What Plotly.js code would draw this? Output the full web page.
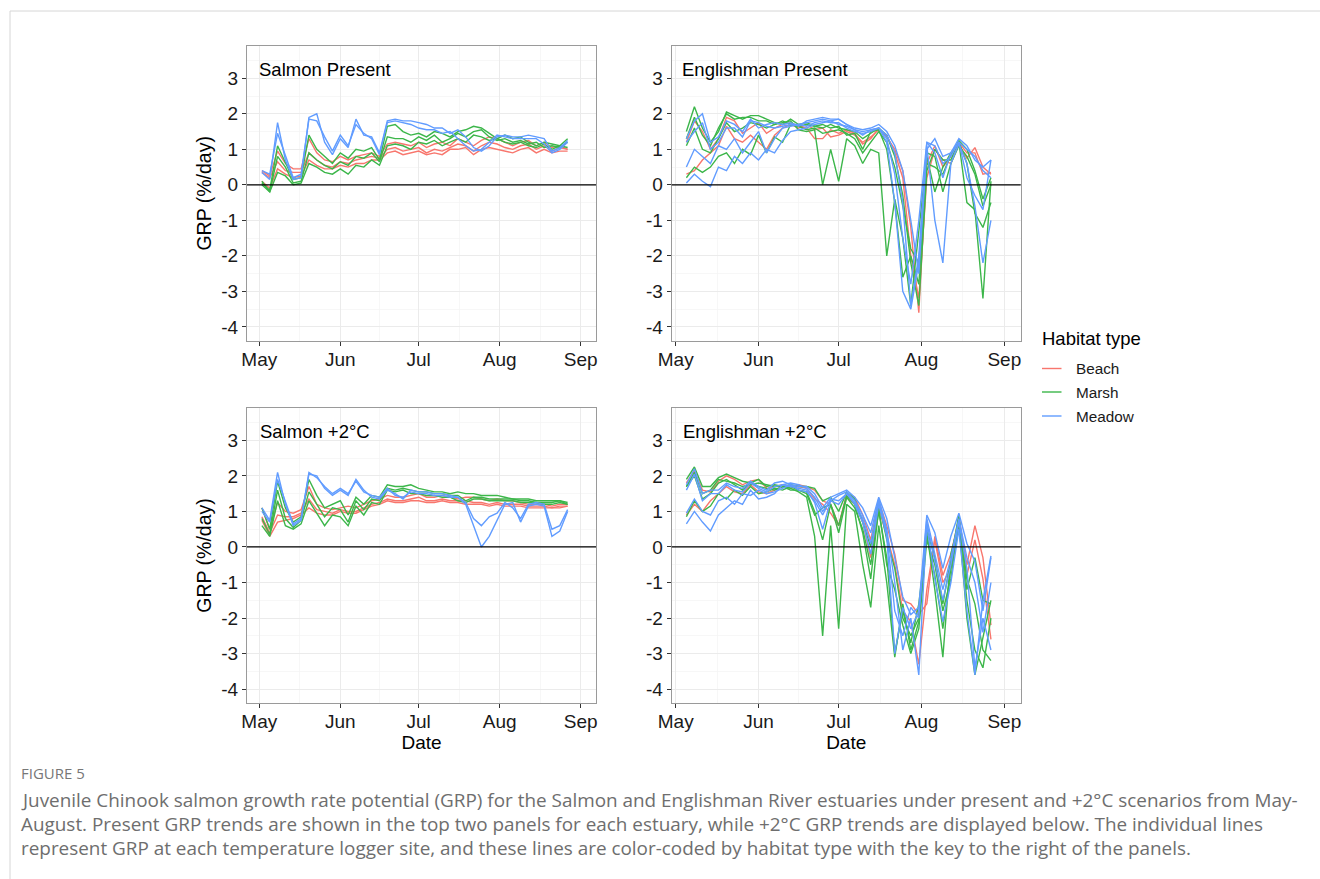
<!DOCTYPE html>
<html><head><meta charset="utf-8">
<script src="https://cdn.plot.ly/plotly-3.0.1.min.js"></script>
<style>html,body{margin:0;padding:0;background:#fff;} #chart{width:1320px;height:879px;}</style>
</head><body><div id="chart"></div>
<script>
// ---------- DATA ----------
// day offsets from 1 May (day 0 = 1 May)
const SALMON_DAYS = [1,4,7,10,13,16,19,22,25,28,31,34,37,40,43,46,49,52,55,58,61,64,67,70,73,76,79,82,85,88,91,94,97,100,103,106,109,112,115,118];
const ENGLISH_DAYS = [4,7,10,13,16,19,22,25,28,31,34,37,40,43,46,49,52,55,58,61,64,67,70,73,76,79,82,85,88,91,94,97,100,103,106,109,112,115,118];

const HABITATS = ['Beach','Marsh','Meadow'];
const MONTH_LABELS = ['May','Jun','Jul','Aug','Sep'];
const Y_LABELS = ['-4','-3','-2','-1','0','1','2','3'];
const PANEL_TITLES = ['Salmon Present','Englishman Present','Salmon +2°C','Englishman +2°C'];

// Salmon Present (GRP %/day)
const salPresBeach1 = [0.4,0.25,0.95,0.6,0.45,0.45,1.3,0.9,0.7,0.65, 0.8,0.7,0.8,0.85,0.9,0.8,1.15,1.2,1.15,1.1, 1.2,1.05,1.15,1.2,1.1,1.3,1.2,1.1,1.25,1.35, 1.3,1.2,1.1,1.2,1.25,1.1,1.2,1.05,1.1,1.0];
const salPresBeach2 = [0.35,0.2,0.65,0.4,0.35,0.35,0.9,0.7,0.55,0.5, 0.65,0.6,0.7,0.75,0.8,0.75,1.0,1.05,0.95,1.0, 1.05,0.9,1.0,0.95,1.05,1.15,1.1,0.95,1.1,1.2, 1.15,1.05,1.0,1.1,1.15,1.0,1.1,0.95,1.05,1.0];
const salPresBeach3 = [0.1,-0.1,0.45,0.3,0.2,0.25,0.7,0.55,0.45,0.45, 0.55,0.5,0.6,0.6,0.7,0.7,0.9,0.95,0.85,0.9, 0.95,0.85,0.9,0.85,1.0,1.0,1.05,0.85,1.0,1.05, 1.0,0.95,0.9,1.0,1.05,0.9,1.0,0.9,0.95,0.95];
const salPresMarsh1 = [0.05,-0.15,1.1,0.6,0.15,0.2,1.4,1.0,0.8,0.6, 0.9,0.75,1.0,0.95,1.05,0.7,1.65,1.7,1.5,1.4, 1.45,1.35,1.5,1.45,1.35,1.5,1.55,1.65,1.6,1.45, 1.3,1.4,1.3,1.35,1.2,1.1,1.2,1.15,1.1,1.3];
const salPresMarsh2 = [0.0,-0.2,0.8,0.5,0.05,0.1,0.9,0.7,0.55,0.45, 0.65,0.55,0.8,0.75,0.9,0.65,1.35,1.3,1.3,1.2, 1.35,1.25,1.4,1.2,1.3,1.45,1.35,1.5,1.55,1.35, 1.25,1.3,1.2,1.25,1.15,1.2,1.05,1.1,1.05,1.2];
const salPresMarsh3 = [0.1,-0.2,0.35,0.25,0.0,0.05,0.6,0.5,0.35,0.3, 0.45,0.3,0.55,0.5,0.7,0.55,1.1,1.15,1.1,1.0, 1.2,1.15,1.25,1.1,1.2,1.3,1.2,1.4,1.35,1.25, 1.3,1.2,1.15,1.2,1.1,1.05,1.15,1.0,1.1,1.05];
const salPresMeadow1 = [0.35,0.15,1.75,0.7,0.15,0.2,1.9,2.0,1.2,0.85, 1.3,1.05,1.85,1.4,1.35,0.9,1.8,1.85,1.8,1.8, 1.75,1.7,1.6,1.6,1.45,1.55,1.35,1.05,0.95,1.1, 1.35,1.4,1.35,1.35,1.4,1.35,1.3,0.95,1.05,1.25];
const salPresMeadow2 = [0.4,0.3,1.45,0.8,0.2,0.3,1.85,1.8,1.35,0.95, 1.4,1.1,1.7,1.45,1.3,0.85,1.75,1.8,1.75,1.7, 1.6,1.55,1.55,1.45,1.5,1.3,1.1,0.95,1.0,1.2, 1.4,1.35,1.3,1.3,1.3,1.3,1.15,0.9,1.0,1.2];

// Salmon +2°C
const salWarmBeach1 = [1.1,0.5,1.25,1.0,0.95,1.05,1.7,1.2,1.1,1.05, 1.1,1.15,1.1,1.2,1.3,1.35,1.45,1.4,1.4,1.45, 1.5,1.4,1.4,1.45,1.4,1.35,1.4,1.4,1.35,1.3, 1.35,1.3,1.3,1.25,1.2,1.2,1.2,1.15,1.2,1.2];
const salWarmBeach2 = [0.85,0.4,0.9,0.85,0.85,0.95,1.35,1.05,1.0,0.95, 1.05,1.0,1.0,1.1,1.2,1.25,1.35,1.3,1.3,1.35, 1.4,1.3,1.3,1.35,1.3,1.3,1.3,1.25,1.25,1.2, 1.25,1.2,1.2,1.2,1.15,1.15,1.15,1.1,1.15,1.15];
const salWarmBeach3 = [0.75,0.3,0.7,0.75,0.8,0.9,1.1,0.95,0.9,0.9, 1.0,0.95,0.95,1.05,1.15,1.2,1.3,1.25,1.25,1.3, 1.3,1.25,1.25,1.3,1.25,1.25,1.2,1.2,1.2,1.15, 1.2,1.15,1.15,1.15,1.1,1.1,1.1,1.1,1.1,1.15];
const salWarmMarsh1 = [1.1,0.5,1.85,1.1,0.7,0.85,1.9,1.45,1.1,1.2, 1.3,0.9,1.4,1.2,1.45,1.4,1.75,1.7,1.7,1.75, 1.65,1.6,1.55,1.55,1.5,1.55,1.5,1.5,1.45,1.45, 1.45,1.4,1.35,1.35,1.35,1.3,1.3,1.3,1.3,1.25];
const salWarmMarsh2 = [0.8,0.35,1.6,0.8,0.55,0.75,1.55,1.2,0.85,1.1, 1.05,0.7,1.3,1.05,1.35,1.3,1.65,1.6,1.65,1.6, 1.55,1.55,1.5,1.5,1.45,1.45,1.3,1.4,1.4,1.35, 1.35,1.35,1.35,1.3,1.3,1.25,1.25,1.25,1.3,1.2];
const salWarmMarsh3 = [0.6,0.3,1.3,0.6,0.5,0.65,1.3,0.95,0.6,0.9, 0.85,0.6,1.15,0.9,1.25,1.2,1.6,1.55,1.6,1.5, 1.5,1.45,1.45,1.4,1.4,1.3,1.25,1.35,1.35,1.3, 1.3,1.3,1.3,1.25,1.25,1.25,1.2,1.2,1.25,1.2];
const salWarmMeadow1 = [1.0,0.7,1.9,1.3,0.65,0.8,2.05,2.0,1.65,1.45, 1.6,1.45,1.9,1.6,1.4,1.35,1.6,1.5,1.35,1.6, 1.55,1.55,1.5,1.5,1.45,1.4,1.2,0.6,0.0,0.3, 0.75,1.2,1.25,0.7,1.15,1.2,1.15,0.3,0.45,1.0];
const salWarmMeadow2 = [1.1,0.75,2.1,1.2,0.6,0.75,2.1,1.95,1.7,1.5, 1.65,1.5,1.85,1.55,1.45,1.4,1.65,1.45,1.4,1.55, 1.5,1.5,1.45,1.45,1.4,1.4,1.25,0.8,0.6,0.85, 0.95,1.25,1.1,0.8,1.2,1.25,1.2,0.5,0.6,1.05];

// Englishman Present
const engPresBeach1 = [1.2,1.8,1.5,1.0,1.3,1.9,1.8,1.45,1.6,1.75, 1.45,1.6,1.7,1.75,1.65,1.6,1.3,1.3,1.55,1.45, 1.55,1.45,1.15,1.3,1.6,1.35,1.0,0.4,-1.2,-3.6, 0.6,1.1,0.5,0.8,1.2,0.9,0.9,0.3,0.35];
const engPresBeach2 = [0.3,0.4,0.7,0.9,1.1,1.65,1.3,1.2,1.4,1.2, 1.0,1.4,1.6,1.7,1.6,1.7,1.55,1.6,1.35,1.4, 1.5,1.4,1.2,1.35,1.55,1.4,0.9,0.2,-2.0,-3.2, 0.2,1.0,0.7,0.6,1.15,0.75,1.05,0.5,0.3];
const engPresMarsh1 = [1.5,2.2,1.6,1.2,1.5,2.05,1.95,1.85,1.95,1.95, 1.85,1.75,1.7,1.85,1.7,1.75,1.65,1.6,1.7,1.6, 1.55,1.5,1.3,1.45,1.6,1.4,0.8,-0.3,-2.2,-3.4, 0.4,1.0,0.7,0.7,1.25,1.0,0.4,-0.4,0.2];
const engPresMarsh2 = [1.3,1.9,1.4,1.1,1.6,2.0,1.85,1.9,1.9,1.8, 1.8,1.7,1.75,1.8,1.55,1.5,1.55,0.0,1.0,0.1, 1.3,1.1,0.6,1.0,0.9,-2.0,-0.4,-1.5,-3.4,-1.2, 0.8,-0.2,0.5,0.9,1.2,-0.5,-0.7,-3.2,0.1];
const engPresMarsh3 = [0.2,0.5,0.35,0.5,0.8,0.9,0.6,1.0,0.85,1.4, 0.9,1.35,1.2,1.7,1.65,1.7,1.65,1.7,1.6,1.65, 1.4,1.45,1.0,1.5,1.55,1.0,-0.5,-2.6,-2.0,-2.8, 0.6,0.5,0.3,0.85,1.2,0.6,-0.8,-1.2,-0.5];
const engPresMarsh4 = [1.1,1.6,1.0,0.9,1.3,1.75,1.5,1.6,1.75,1.7, 1.6,1.7,1.8,1.7,1.65,1.55,1.6,1.45,1.5,1.55, 1.45,1.3,0.9,1.2,1.5,1.2,0.5,-0.6,-1.8,-2.2, 0.9,0.8,-0.2,0.6,1.1,0.8,0.3,-0.6,0.0];
const engPresMeadow1 = [1.3,1.8,2.0,1.2,1.35,1.8,1.7,1.5,1.85,1.6, 1.7,1.75,1.7,1.75,1.65,1.8,1.85,1.9,1.85,1.85, 1.7,1.6,1.55,1.6,1.7,1.5,1.1,0.4,-1.0,-2.5, 1.0,1.3,0.8,0.9,1.3,1.1,0.7,0.5,0.7];
const engPresMeadow2 = [1.2,1.5,1.75,1.0,1.2,1.6,1.6,1.35,1.8,1.75, 1.65,1.6,1.65,1.7,1.7,1.75,1.8,1.85,1.8,1.7, 1.65,1.55,1.5,1.55,1.6,1.4,0.9,-0.5,-3.4,-2.0, 1.2,1.1,0.6,0.8,1.2,1.0,0.8,0.4,0.2];
const engPresMeadow3 = [0.05,0.3,0.1,-0.05,0.5,0.4,0.8,0.6,0.9,0.7, 1.0,0.9,1.25,1.5,1.55,1.6,1.7,1.75,1.8,1.85, 1.7,1.55,1.4,1.55,1.6,1.2,-0.5,-3.0,-3.5,-2.2, 1.1,-1.0,-2.2,0.6,1.15,0.6,-0.6,-2.2,-1.0];
const engPresMeadow4 = [0.5,1.0,0.8,0.6,1.1,1.0,1.3,0.9,1.2,1.5, 0.9,1.3,1.6,1.65,1.7,1.65,1.75,1.8,1.75,1.75, 1.6,1.5,1.45,1.5,1.6,1.3,0.3,-1.5,-2.8,-1.0, 1.2,0.9,0.2,0.9,1.2,0.2,-0.3,-0.7,0.7];

// Englishman +2°C
const engWarmBeach1 = [1.8,2.15,1.6,1.55,1.85,2.0,1.9,1.75,1.85,1.9, 1.65,1.7,1.75,1.7,1.75,1.7,1.6,1.3,1.2,0.6, 1.5,1.4,0.9,0.2,1.3,0.6,-0.2,-1.5,-1.6,-1.9, -1.6,0.3,-0.8,-0.2,0.8,-0.5,0.6,-0.3,-2.2];
const engWarmBeach2 = [0.9,1.2,1.0,1.3,1.5,1.7,1.55,1.5,1.75,1.55, 1.5,1.6,1.7,1.65,1.7,1.65,1.35,1.2,0.95,0.6, 1.4,1.2,0.7,-0.3,1.1,0.3,-0.5,-1.8,-2.1,-3.3, -1.2,0.2,-1.0,-0.6,0.9,-0.8,0.2,-0.9,-2.6];
const engWarmMarsh1 = [1.9,2.25,1.7,1.7,1.95,2.05,1.95,1.85,1.8,1.9, 1.7,1.75,1.7,1.75,1.7,1.7,1.65,1.3,1.4,1.0, 1.55,1.35,0.7,0.0,1.3,0.2,-0.6,-2.0,-2.5,-2.0, 0.5,-0.3,-1.6,-0.4,0.9,-1.2,-0.3,-1.5,-1.6];
const engWarmMarsh2 = [1.7,2.1,1.5,1.6,1.9,1.85,1.8,1.7,1.75,1.8, 1.75,1.7,1.7,1.65,1.55,1.4,0.3,-2.5,0.6,-2.3, 1.2,1.0,-0.5,-1.7,0.6,-1.0,-3.1,-1.6,-2.9,-2.1, 0.4,-1.2,-3.1,-0.2,0.7,-2.0,-3.6,-2.5,-1.5];
const engWarmMarsh3 = [0.85,1.3,1.0,1.15,1.5,1.35,1.6,1.45,1.7,1.5, 1.55,1.65,1.6,1.7,1.6,1.55,1.0,0.2,1.2,0.4, 1.4,1.1,0.5,-0.5,1.0,-0.3,-3.0,-1.8,-2.7,-1.6, 0.3,-0.8,-2.3,-0.6,0.6,-1.5,-2.9,-3.4,-2.0];
const engWarmMarsh4 = [1.7,2.0,1.35,1.5,1.8,1.9,1.75,1.6,1.8,1.7, 1.65,1.6,1.7,1.6,1.6,1.5,0.9,1.1,1.2,0.6, 1.45,1.2,0.4,-0.9,1.1,-0.5,-1.2,-2.2,-3.0,-2.3, 0.2,-0.5,-1.8,-0.9,0.8,-0.9,-1.6,-2.9,-3.2];
const engWarmMeadow1 = [1.75,2.2,1.5,1.6,1.6,1.8,1.7,1.65,1.85,1.7, 1.6,1.8,1.85,1.75,1.7,1.7,1.5,1.1,1.4,1.5, 1.6,1.4,1.1,0.6,1.4,0.8,-0.3,-1.4,-1.9,-1.7, 0.9,0.4,-0.6,0.3,0.95,0.1,-0.4,-1.8,-0.3];
const engWarmMeadow2 = [1.6,2.05,1.3,1.5,1.5,1.75,1.6,1.55,1.8,1.65, 1.55,1.7,1.75,1.8,1.75,1.65,1.4,1.0,1.3,1.45, 1.55,1.3,0.9,0.4,1.35,0.5,-1.0,-2.9,-2.0,-3.6, 0.7,-0.4,-1.5,-0.5,0.7,-0.6,-3.4,-2.0,-2.9];
const engWarmMeadow3 = [0.65,1.0,0.7,0.45,0.9,1.1,1.3,1.2,1.6,1.35, 1.4,1.5,1.75,1.7,1.65,1.6,1.25,0.5,1.3,1.2, 1.5,1.2,0.7,-0.2,1.2,0.3,-3.0,-1.7,-2.3,-1.8, 0.6,-0.9,-2.1,-1.0,0.5,-1.8,-3.6,-1.5,-0.25];
const engWarmMeadow4 = [0.95,1.35,1.0,0.9,1.3,1.4,1.2,1.5,1.45,1.6, 1.5,1.55,1.65,1.75,1.6,1.55,1.3,0.9,1.35,1.3, 1.5,1.25,0.8,0.1,1.3,0.4,-1.8,-2.5,-1.7,-2.0, 0.8,-0.2,-1.2,-0.3,0.8,-0.3,-1.0,-2.4,-1.0];

// ---------- BUILD ----------
const COLORS = {Beach:'#F8766D', Marsh:'#3CB64A', Meadow:'#619CFF'};
const BASE = Date.UTC(2021,4,1);
function toDate(d){ return new Date(BASE + d*86400000).toISOString().slice(0,10); }

const panels = [
  {days:SALMON_DAYS, xa:'x', ya:'y', sites:[
    ['Beach',salPresBeach1],['Beach',salPresBeach2],['Beach',salPresBeach3],
    ['Marsh',salPresMarsh1],['Marsh',salPresMarsh2],['Marsh',salPresMarsh3],
    ['Meadow',salPresMeadow1],['Meadow',salPresMeadow2]]},
  {days:ENGLISH_DAYS, xa:'x2', ya:'y2', sites:[
    ['Beach',engPresBeach1],['Beach',engPresBeach2],
    ['Marsh',engPresMarsh1],['Marsh',engPresMarsh2],['Marsh',engPresMarsh3],['Marsh',engPresMarsh4],
    ['Meadow',engPresMeadow1],['Meadow',engPresMeadow2],['Meadow',engPresMeadow3],['Meadow',engPresMeadow4]]},
  {days:SALMON_DAYS, xa:'x3', ya:'y3', sites:[
    ['Beach',salWarmBeach1],['Beach',salWarmBeach2],['Beach',salWarmBeach3],
    ['Marsh',salWarmMarsh1],['Marsh',salWarmMarsh2],['Marsh',salWarmMarsh3],
    ['Meadow',salWarmMeadow1],['Meadow',salWarmMeadow2]]},
  {days:ENGLISH_DAYS, xa:'x4', ya:'y4', sites:[
    ['Beach',engWarmBeach1],['Beach',engWarmBeach2],
    ['Marsh',engWarmMarsh1],['Marsh',engWarmMarsh2],['Marsh',engWarmMarsh3],['Marsh',engWarmMarsh4],
    ['Meadow',engWarmMeadow1],['Meadow',engWarmMeadow2],['Meadow',engWarmMeadow3],['Meadow',engWarmMeadow4]]}
];

const traces = [];
panels.forEach(p => {
  const xs = p.days.map(toDate);
  p.sites.forEach(([hab, vals]) => {
    traces.push({type:'scatter', mode:'lines', x:xs, y:vals, xaxis:p.xa, yaxis:p.ya,
      name:hab, showlegend:false, hoverinfo:'skip',
      line:{color:COLORS[hab], width:1.4}});
  });
});

const W = 1320, H = 879;
const px = v => v / W, py = v => 1 - v / H;

const MONTH_TICKS = ['2021-05-01','2021-06-01','2021-07-01','2021-08-01','2021-09-01'];
const MONTH_MINOR = ['2021-04-16','2021-05-16 12:00','2021-06-16','2021-07-16 12:00','2021-08-16 12:00','2021-09-16'];
const FONT = 'Liberation Sans, Arial, Helvetica, sans-serif';

const xDomL = [px(247), px(596)], xDomR = [px(671.7), px(1020.7)];
const yDomT = [py(340.7), py(46)], yDomB = [py(703), py(408)];
const xRangeL = ['2021-04-26 07:12','2021-09-06 20:40'];
const xRangeR = ['2021-04-29 12:00','2021-09-07 03:20'];
const yRange = [-4.39, 3.91];

function xAxis(domain, range, anchor, titled){
  return {domain, range, anchor, type:'date', tickmode:'array', tickvals:MONTH_TICKS, ticktext:MONTH_LABELS,
    ticks:'outside', ticklen:4, tickwidth:1, tickcolor:'#333', ticklabelstandoff:-3,
    showline:true, mirror:true, linecolor:'#9a9a9a', linewidth:1,
    showgrid:true, gridcolor:'#ebebeb', gridwidth:1, zeroline:false, fixedrange:true,
    minor:{tickmode:'array', tickvals:MONTH_MINOR, showgrid:true, gridcolor:'#f4f4f4', gridwidth:0.7, ticks:''},
    tickfont:{family:FONT, size:19, color:'#1a1a1a'},
    title: titled ? {text:'Date', font:{family:FONT, size:19, color:'#000'}, standoff:0} : {text:''}};
}
function yAxis(domain, anchor, titled){
  return {domain, range:yRange, anchor, tickmode:'array', tickvals:[-4,-3,-2,-1,0,1,2,3], ticktext:Y_LABELS,
    ticks:'outside', ticklen:4, tickwidth:1, tickcolor:'#333',
    showline:true, mirror:true, linecolor:'#9a9a9a', linewidth:1,
    showgrid:true, gridcolor:'#ebebeb', gridwidth:1, zeroline:false, fixedrange:true,
    minor:{tickmode:'array', tickvals:[-3.5,-2.5,-1.5,-0.5,0.5,1.5,2.5,3.5], showgrid:true, gridcolor:'#f4f4f4', gridwidth:0.7, ticks:''},
    tickfont:{family:FONT, size:19, color:'#1a1a1a'},
    title: titled ? {text:'GRP (%/day)', font:{family:FONT, size:19.5, color:'#000'}, standoff:4} : {text:''}};
}

const shapes = [];
[['x','y'],['x2','y2'],['x3','y3'],['x4','y4']].forEach(([xa,ya]) => {
  shapes.push({type:'line', xref:xa+' domain', x0:0, x1:1, yref:ya, y0:0, y1:0, layer:'above',
    line:{color:'#000', width:1.3}});
});
// figure frame lines
shapes.push({type:'line', xref:'paper', yref:'paper', x0:px(10), x1:1, y0:py(11), y1:py(11), line:{color:'#d6d6d6', width:1}});
shapes.push({type:'line', xref:'paper', yref:'paper', x0:px(10), x1:px(10), y0:py(11), y1:0, line:{color:'#d6d6d6', width:1}});

const annotations = [];
const titlePos = [[257,69],[680,69],[258,431],[681,431]];
PANEL_TITLES.forEach((t,i) => {
  annotations.push({text:t, xref:'paper', yref:'paper', x:px(titlePos[i][0]), y:py(titlePos[i][1]),
    xanchor:'left', yanchor:'middle', showarrow:false, font:{family:FONT, size:18.5, color:'#000'}});
});
// legend
annotations.push({text:'Habitat type', xref:'paper', yref:'paper', x:px(1040), y:py(338.5), xanchor:'left', yanchor:'middle',
  showarrow:false, font:{family:FONT, size:18.5, color:'#000'}});
const legY = [368.5, 392, 416];
HABITATS.forEach((h,i) => {
  shapes.push({type:'line', xref:'paper', yref:'paper', x0:px(1042), x1:px(1061.5), y0:py(legY[i]), y1:py(legY[i]),
    line:{color:COLORS[h], width:1.4}});
  annotations.push({text:h, xref:'paper', yref:'paper', x:px(1073.5), y:py(legY[i]), xanchor:'left', yanchor:'middle',
    showarrow:false, font:{family:FONT, size:15.3, color:'#1a1a1a'}});
});
// caption
const CAP_FONT = 'Open Sans, Noto Sans, sans-serif';
annotations.push({text:'FIGURE 5', xref:'paper', yref:'paper', x:px(19), y:py(773), xanchor:'left', yanchor:'middle',
  showarrow:false, font:{family:CAP_FONT, size:15, color:'#777'}});
const CAPTION = [
  'Juvenile Chinook salmon growth rate potential (GRP) for the Salmon and Englishman River estuaries under present and +2°C scenarios from May-',
  'August. Present GRP trends are shown in the top two panels for each estuary, while +2°C GRP trends are displayed below. The individual lines',
  'represent GRP at each temperature logger site, and these lines are color-coded by habitat type with the key to the right of the panels.'
];
const capY = [800, 824, 848];
CAPTION.forEach((c,i) => annotations.push({text:c, xref:'paper', yref:'paper', x:px(19), y:py(capY[i]), xanchor:'left', yanchor:'middle',
  showarrow:false, font:{family:CAP_FONT, size:18.9, color:'#6e6e6e'}}));

const layout = {
  width:W, height:H, margin:{l:0,r:0,t:0,b:0}, paper_bgcolor:'#fff', plot_bgcolor:'#fff', showlegend:false,
  font:{family:FONT},
  xaxis:xAxis(xDomL, xRangeL, 'y', false),
  xaxis2:xAxis(xDomR, xRangeR, 'y2', false),
  xaxis3:xAxis(xDomL, xRangeL, 'y3', true),
  xaxis4:xAxis(xDomR, xRangeR, 'y4', true),
  yaxis:yAxis(yDomT, 'x', true),
  yaxis2:yAxis(yDomT, 'x2', false),
  yaxis3:yAxis(yDomB, 'x3', true),
  yaxis4:yAxis(yDomB, 'x4', false),
  shapes, annotations
};
Plotly.newPlot('chart', traces, layout, {staticPlot:true, displayModeBar:false});
</script></body></html>
